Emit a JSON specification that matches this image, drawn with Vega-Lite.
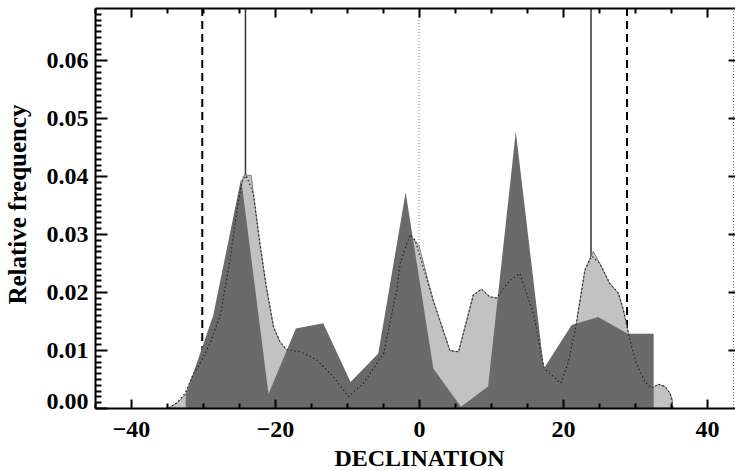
{
  "$schema": "https://vega.github.io/schema/vega-lite/v6.json",
  "width": 640,
  "height": 400,
  "autosize": {"type": "none"},
  "padding": {"left": 95, "top": 8, "right": 0, "bottom": 62},
  "background": "white",
  "config": {"view": {"stroke": null}},
  "datasets": {
    "solid": [{"x": -24.1}, {"x": 23.9}],
    "dashed": [{"x": -30.1}, {"x": 28.9}],
    "dotted": [{"x": 0}, {"x": 43.7}],
    "light": [
      {"x": -34.8, "f": 0}, {"x": -33.6, "f": 0.0009}, {"x": -32.5, "f": 0.0022}, {"x": -31.6, "f": 0.0051},
      {"x": -30.4, "f": 0.008}, {"x": -29.0, "f": 0.0115}, {"x": -27.6, "f": 0.016}, {"x": -26.3, "f": 0.0255},
      {"x": -25.3, "f": 0.034}, {"x": -24.4, "f": 0.04}, {"x": -24.2, "f": 0.0402}, {"x": -23.3, "f": 0.0401},
      {"x": -23.0, "f": 0.037}, {"x": -22.1, "f": 0.0284}, {"x": -21.2, "f": 0.0209}, {"x": -20.2, "f": 0.014},
      {"x": -19.3, "f": 0.0114}, {"x": -18.4, "f": 0.01}, {"x": -16.5, "f": 0.0097}, {"x": -14.2, "f": 0.0083},
      {"x": -11.9, "f": 0.0054}, {"x": -9.8, "f": 0.0025}, {"x": -7.7, "f": 0.0045}, {"x": -4.9, "f": 0.0094},
      {"x": -3.1, "f": 0.0203}, {"x": -1.9, "f": 0.027}, {"x": -1.2, "f": 0.0295}, {"x": -0.55, "f": 0.0289},
      {"x": 0.0, "f": 0.028}, {"x": 2.0, "f": 0.0185}, {"x": 4.3, "f": 0.0099}, {"x": 5.5, "f": 0.0097},
      {"x": 7.55, "f": 0.0195}, {"x": 8.7, "f": 0.0205}, {"x": 9.8, "f": 0.0192}, {"x": 10.8, "f": 0.0189},
      {"x": 12.5, "f": 0.0215}, {"x": 14.0, "f": 0.0232}, {"x": 15.9, "f": 0.0163}, {"x": 17.4, "f": 0.0066},
      {"x": 19.7, "f": 0.0043}, {"x": 20.7, "f": 0.0077}, {"x": 21.7, "f": 0.0134}, {"x": 21.9, "f": 0.0149},
      {"x": 23.05, "f": 0.0238}, {"x": 24.2, "f": 0.027}, {"x": 25.1, "f": 0.025}, {"x": 26.5, "f": 0.0215},
      {"x": 27.7, "f": 0.0198}, {"x": 28.4, "f": 0.0169}, {"x": 29.1, "f": 0.0129}, {"x": 30.2, "f": 0.0077},
      {"x": 31.4, "f": 0.0045}, {"x": 32.3, "f": 0.0034}, {"x": 32.6, "f": 0.0035}, {"x": 33.25, "f": 0.0041},
      {"x": 34.2, "f": 0.0037}, {"x": 34.9, "f": 0.0025}, {"x": 35.2, "f": 0.0015}
    ],
    "dark": [
      {"x": -32.4, "f": 0.0022}, {"x": -28.57, "f": 0.016}, {"x": -24.7, "f": 0.0396}, {"x": -20.9, "f": 0.0024},
      {"x": -17.1, "f": 0.0137}, {"x": -13.3, "f": 0.0146}, {"x": -9.5, "f": 0.0045}, {"x": -5.65, "f": 0.0094},
      {"x": -1.85, "f": 0.0372}, {"x": 2.0, "f": 0.0068}, {"x": 5.83, "f": 0.0002}, {"x": 9.6, "f": 0.0037},
      {"x": 13.45, "f": 0.0477}, {"x": 17.35, "f": 0.0068}, {"x": 21.2, "f": 0.0143}, {"x": 24.9, "f": 0.0157},
      {"x": 29.0, "f": 0.0128}, {"x": 32.6, "f": 0.0128}
    ],
    "smooth": [
      {"x": -34.8, "f": 0}, {"x": -33.6, "f": 0.0009}, {"x": -32.5, "f": 0.0025}, {"x": -31.3, "f": 0.006},
      {"x": -30.4, "f": 0.0077}, {"x": -29.0, "f": 0.0112}, {"x": -27.6, "f": 0.016}, {"x": -26.25, "f": 0.0255},
      {"x": -25.3, "f": 0.0341}, {"x": -24.6, "f": 0.039}, {"x": -24.0, "f": 0.0401}, {"x": -23.0, "f": 0.037},
      {"x": -22.1, "f": 0.0284}, {"x": -21.2, "f": 0.0209}, {"x": -20.2, "f": 0.014}, {"x": -19.3, "f": 0.0114},
      {"x": -18.4, "f": 0.0101}, {"x": -16.5, "f": 0.0097}, {"x": -14.2, "f": 0.0083}, {"x": -11.9, "f": 0.0054},
      {"x": -9.8, "f": 0.002}, {"x": -7.7, "f": 0.0043}, {"x": -4.9, "f": 0.0094}, {"x": -3.1, "f": 0.0203},
      {"x": -2.6, "f": 0.025}, {"x": -1.25, "f": 0.0299}, {"x": -0.55, "f": 0.029}, {"x": 2.0, "f": 0.0185},
      {"x": 4.3, "f": 0.0099}, {"x": 5.5, "f": 0.0097}, {"x": 7.55, "f": 0.0195}, {"x": 8.7, "f": 0.0205},
      {"x": 9.8, "f": 0.0192}, {"x": 10.8, "f": 0.019}, {"x": 12.6, "f": 0.022}, {"x": 14.0, "f": 0.0232},
      {"x": 15.9, "f": 0.0163}, {"x": 17.4, "f": 0.0068}, {"x": 19.7, "f": 0.0043}, {"x": 20.7, "f": 0.0077},
      {"x": 21.7, "f": 0.0134}, {"x": 23.05, "f": 0.0238}, {"x": 24.0, "f": 0.0262}, {"x": 25.1, "f": 0.025},
      {"x": 26.5, "f": 0.0215}, {"x": 27.7, "f": 0.0198}, {"x": 28.4, "f": 0.0169}, {"x": 29.3, "f": 0.0117},
      {"x": 30.2, "f": 0.0077}, {"x": 31.4, "f": 0.0045}, {"x": 32.3, "f": 0.0034}, {"x": 33.25, "f": 0.0041},
      {"x": 34.2, "f": 0.0037}, {"x": 34.9, "f": 0.0025}, {"x": 35.3, "f": 0}
    ]
  },
  "resolve": {"axis": {"x": "independent", "y": "independent"}},
  "layer": [
    {
      "data": {"name": "solid"},
      "mark": {"type": "rule", "color": "#333333", "strokeWidth": 1.5},
      "encoding": {
        "x": {"field": "x", "type": "quantitative",
          "scale": {"domain": [-45, 43.9], "nice": false, "zero": false},
          "axis": {"orient": "bottom",
            "values": [-45, -40, -35, -30, -25, -20, -15, -10, -5, 0, 5, 10, 15, 20, 25, 30, 35, 40],
            "tickSize": {"condition": {"test": "abs(datum.value % 20) < 0.001", "value": -9}, "value": -5},
            "tickWidth": 2, "tickColor": "black",
            "domain": true, "domainColor": "black", "domainWidth": 2, "grid": false, "zindex": 1,
            "labelExpr": "abs(datum.value % 20) < 0.001 ? datum.label : ''",
            "labelFont": "Liberation Serif", "labelFontWeight": "bold", "labelFontSize": 24, "labelColor": "black",
            "labelPadding": 18, "labelBaseline": "top", "labelFlush": false, "labelOverlap": false,
            "title": "DECLINATION", "titleFont": "Liberation Serif", "titleFontSize": 24, "titleFontWeight": "bold",
            "titleColor": "black", "titleX": 324, "titleY": 57, "titleBaseline": "alphabetic", "titleAlign": "center"}
        }
      }
    },
    {
      "data": {"name": "dashed"},
      "mark": {"type": "rule", "color": "black", "strokeWidth": 2, "strokeDash": [8, 5]},
      "encoding": {
        "x": {"field": "x", "type": "quantitative",
          "scale": {"domain": [-45, 43.9], "nice": false, "zero": false}, "axis": null}
      }
    },
    {
      "data": {"name": "dotted"},
      "mark": {"type": "rule", "color": "#777777", "strokeWidth": 1, "strokeDash": [1, 2]},
      "encoding": {
        "x": {"field": "x", "type": "quantitative",
          "scale": {"domain": [-45, 43.9], "nice": false, "zero": false},
          "axis": {"orient": "top",
            "values": [-45, -40, -35, -30, -25, -20, -15, -10, -5, 0, 5, 10, 15, 20, 25, 30, 35, 40],
            "tickSize": {"condition": {"test": "abs(datum.value % 20) < 0.001", "value": -9}, "value": -5},
            "tickWidth": 2, "tickColor": "black",
            "domain": true, "domainColor": "black", "domainWidth": 2, "labels": false, "title": null, "grid": false, "zindex": 1}
        }
      }
    },
    {
      "data": {"name": "light"},
      "mark": {"type": "area", "color": "#c2c2c2", "stroke": "#666666", "strokeWidth": 0.8, "clip": true},
      "encoding": {
        "x": {"field": "x", "type": "quantitative",
          "scale": {"domain": [-45, 43.9], "nice": false, "zero": false}, "axis": null},
        "y": {"field": "f", "type": "quantitative",
          "scale": {"domain": [0, 0.069], "nice": false, "zero": false},
          "axis": {"orient": "left",
            "values": [0, 0.001, 0.002, 0.003, 0.004, 0.005, 0.006, 0.007, 0.008, 0.009, 0.01, 0.011, 0.012, 0.013, 0.014, 0.015, 0.016, 0.017, 0.018, 0.019, 0.02, 0.021, 0.022, 0.023, 0.024, 0.025, 0.026, 0.027, 0.028, 0.029, 0.03, 0.031, 0.032, 0.033, 0.034, 0.035, 0.036, 0.037, 0.038, 0.039, 0.04, 0.041, 0.042, 0.043, 0.044, 0.045, 0.046, 0.047, 0.048, 0.049, 0.05, 0.051, 0.052, 0.053, 0.054, 0.055, 0.056, 0.057, 0.058, 0.059, 0.06, 0.061, 0.062, 0.063, 0.064, 0.065, 0.066, 0.067, 0.068],
            "format": ".2f",
            "tickSize": {"condition": {"test": "abs(datum.value * 100 - round(datum.value * 100)) < 0.00001", "value": -12}, "value": -6},
            "tickWidth": 2,
            "tickColor": "black", "domain": true, "domainColor": "black", "domainWidth": 2,
            "grid": false, "zindex": 1,
            "labelExpr": "abs(datum.value * 100 - round(datum.value * 100)) < 0.00001 ? datum.label : ''",
            "labelFont": "Liberation Serif", "labelFontWeight": "bold", "labelFontSize": 24, "labelColor": "black",
            "labelPadding": 19, "labelFlush": false, "labelOverlap": false,
            "labelBaseline": {"condition": {"test": "datum.value === 0", "value": "alphabetic"}, "value": "middle"},
            "title": "Relative frequency", "titleFont": "Liberation Serif", "titleFontSize": 25, "titleFontWeight": "bold",
            "titleColor": "black", "titleX": -70, "titleY": 196, "titleAngle": -90, "titleBaseline": "alphabetic", "titleAlign": "center"}
        }
      }
    },
    {
      "data": {"name": "dark"},
      "mark": {"type": "area", "color": "#6a6a6a", "clip": true},
      "encoding": {
        "x": {"field": "x", "type": "quantitative",
          "scale": {"domain": [-45, 43.9], "nice": false, "zero": false}, "axis": null},
        "y": {"field": "f", "type": "quantitative",
          "scale": {"domain": [0, 0.069], "nice": false, "zero": false}, "axis": null}
      }
    },
    {
      "data": {"name": "smooth"},
      "mark": {"type": "line", "color": "#222222", "strokeWidth": 1.2, "strokeDash": [1.5, 2.5], "clip": true},
      "encoding": {
        "x": {"field": "x", "type": "quantitative",
          "scale": {"domain": [-45, 43.9], "nice": false, "zero": false}, "axis": null},
        "y": {"field": "f", "type": "quantitative",
          "scale": {"domain": [0, 0.069], "nice": false, "zero": false},
          "axis": {"orient": "right", "values": [0.01, 0.02, 0.03, 0.04, 0.05, 0.06],
            "tickSize": -7, "tickWidth": 2, "tickColor": "black", "domain": false, "labels": false,
            "title": null, "grid": false, "zindex": 1}
        }
      }
    }
  ]
}
